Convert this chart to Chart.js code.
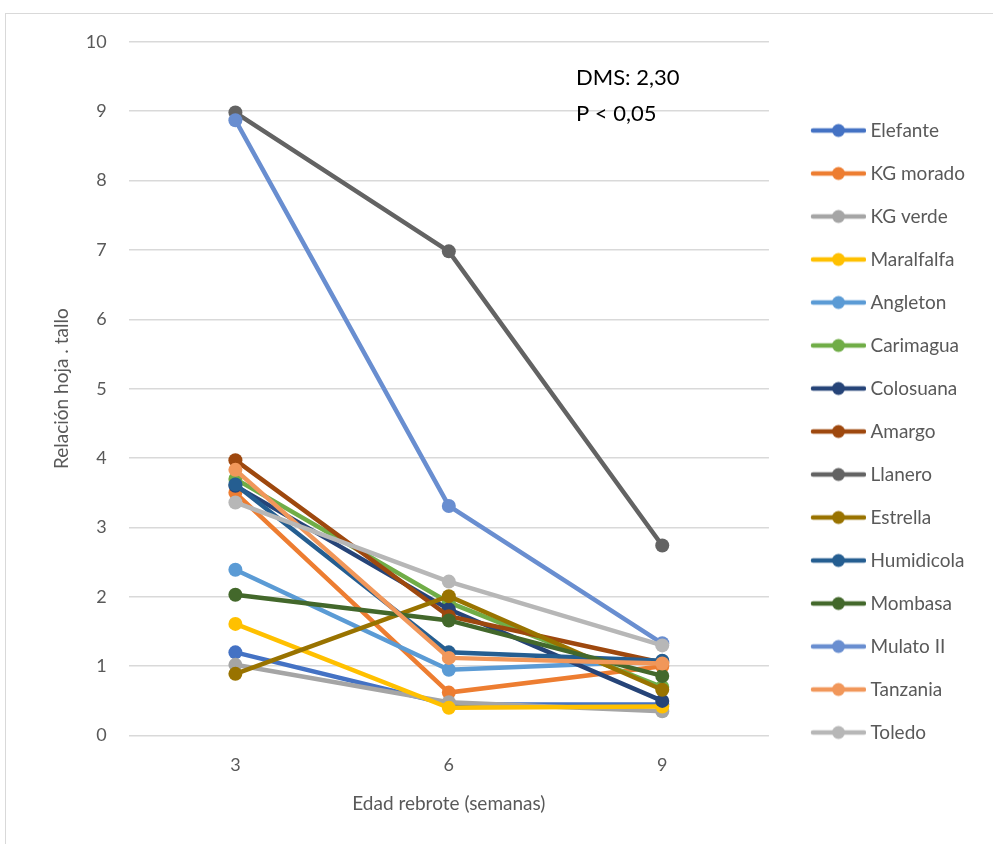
<!DOCTYPE html>
<html>
<head>
<meta charset="utf-8">
<script src="https://cdn.jsdelivr.net/npm/chart.js@4"></script>
<style>
  html, body { margin: 0; padding: 0; background: #fff; }
  #frame {
    position: absolute; left: 5px; top: 13px; width: 1000px; height: 840px;
    border: 1px solid #d9d9d9; box-sizing: border-box;
  }
  #wrap { position: absolute; left: 6px; top: 9px; width: 987px; height: 835px; }
</style>
</head>
<body>
<div id="frame"></div>
<div id="wrap"><canvas id="chart"></canvas></div>
<script>
  // semanas de rebrote
  const weeks = ['3', '6', '9'];

  const seriesNames = ['Elefante', 'KG morado', 'KG verde', 'Maralfalfa', 'Angleton',
    'Carimagua', 'Colosuana', 'Amargo', 'Llanero', 'Estrella', 'Humidicola',
    'Mombasa', 'Mulato II', 'Tanzania', 'Toledo'];

  const elefante   = [1.20, 0.45, 0.45];
  const kgMorado   = [3.50, 0.62, 1.00];
  const kgVerde    = [1.02, 0.48, 0.35];
  const maralfalfa = [1.61, 0.40, 0.42];
  const angleton   = [2.39, 0.95, 1.07];
  const carimagua  = [3.70, 1.92, 0.70];
  const colosuana  = [3.60, 1.82, 0.50];
  const amargo     = [3.97, 1.72, 1.05];
  const llanero    = [8.98, 6.98, 2.74];
  const estrella   = [0.89, 2.01, 0.66];
  const humidicola = [3.62, 1.20, 1.08];
  const mombasa    = [2.03, 1.66, 0.86];
  const mulato     = [8.87, 3.31, 1.33];
  const tanzania   = [3.83, 1.12, 1.04];
  const toledo     = [3.36, 2.22, 1.30];

  const seriesValues = [elefante, kgMorado, kgVerde, maralfalfa, angleton, carimagua,
    colosuana, amargo, llanero, estrella, humidicola, mombasa, mulato, tanzania, toledo];

  const colors = ['#4472C4', '#ED7D31', '#A5A5A5', '#FFC000', '#5B9BD5', '#70AD47',
    '#264478', '#9E480E', '#636363', '#997300', '#255E91', '#43682B', '#698ED0',
    '#F1975A', '#B7B7B7'];

  const yTicks = [0, 1, 2, 3, 4, 5, 6, 7, 8, 9, 10];

  // icono de leyenda: linea con circulo; la parte izquierda vacia deja el hueco
  // entre el grafico y la leyenda
  const BOX_W = 68;
  function legendIcon(color) {
    const c = document.createElement('canvas');
    c.width = BOX_W + 10; c.height = 16;
    const g = c.getContext('2d');
    const x0 = BOX_W - 45, x1 = BOX_W + 10;
    g.strokeStyle = color;
    g.lineWidth = 4.5;
    g.lineCap = 'round';
    g.beginPath(); g.moveTo(x0 + 2, 8); g.lineTo(x1 - 2, 8); g.stroke();
    g.fillStyle = color;
    g.beginPath(); g.arc((x0 + x1) / 2, 8, 6.5, 0, Math.PI * 2); g.fill();
    return c;
  }

  const datasets = seriesNames.map((name, i) => ({
    label: name,
    data: seriesValues[i],
    borderColor: colors[i],
    backgroundColor: colors[i],
    borderWidth: 4.5,
    pointRadius: 7,
    pointBorderWidth: 0,
    pointStyle: 'circle',
    pointBackgroundColor: colors[i],
    order: seriesNames.length - i,
  }));

  // texto DMS
  const notePlugin = {
    id: 'note',
    afterDraw(chart) {
      const ctx = chart.ctx;
      ctx.save();
      ctx.fillStyle = '#000';
      ctx.font = '22px Lato';
      ctx.textBaseline = 'middle';
      ctx.fillText('DMS: 2,30', 570, 69);
      ctx.fillText('P < 0,05', 570, 105);
      ctx.restore();
    }
  };

  Chart.defaults.font.family = 'Lato';

  new Chart(document.getElementById('chart'), {
    type: 'line',
    data: { labels: weeks, datasets: datasets },
    plugins: [notePlugin],
    options: {
      responsive: true,
      maintainAspectRatio: false,
      animation: false,
      elements: { line: { tension: 0 } },
      layout: { padding: { top: 15, right: 18, bottom: 25, left: 40 } },
      plugins: {
        tooltip: { enabled: false },
        legend: {
          position: 'right',
          title: { display: true, text: ' ', font: { size: 10 }, padding: 4 },
          labels: {
            color: '#595959',
            font: { size: 19 },
            usePointStyle: true,
            pointStyleWidth: BOX_W,
            padding: 24,
            generateLabels(chart) {
              return chart.data.datasets.map((ds, i) => ({
                text: ds.label,
                fontColor: '#595959',
                pointStyle: legendIcon(colors[i]),
                datasetIndex: i,
                hidden: false,
                lineWidth: 0,
              }));
            }
          }
        }
      },
      scales: {
        x: {
          offset: true,
          grid: { display: false },
          border: { display: false },
          ticks: { color: '#595959', font: { size: 18 }, padding: 11 },
          title: { display: true, text: 'Edad rebrote (semanas)', color: '#595959', font: { size: 19 }, padding: { top: 5 } }
        },
        y: {
          min: 0, max: 10,
          afterBuildTicks(axis) { axis.ticks = yTicks.map(v => ({ value: v })); },
          grid: { color: '#d9d9d9', lineWidth: 1.5, drawTicks: false },
          border: { display: false },
          ticks: { color: '#595959', font: { size: 18 }, padding: 22 },
          title: { display: true, text: 'Relación hoja . tallo', color: '#595959', font: { size: 19 }, padding: { bottom: -9 } }
        }
      }
    }
  });
</script>
</body>
</html>
